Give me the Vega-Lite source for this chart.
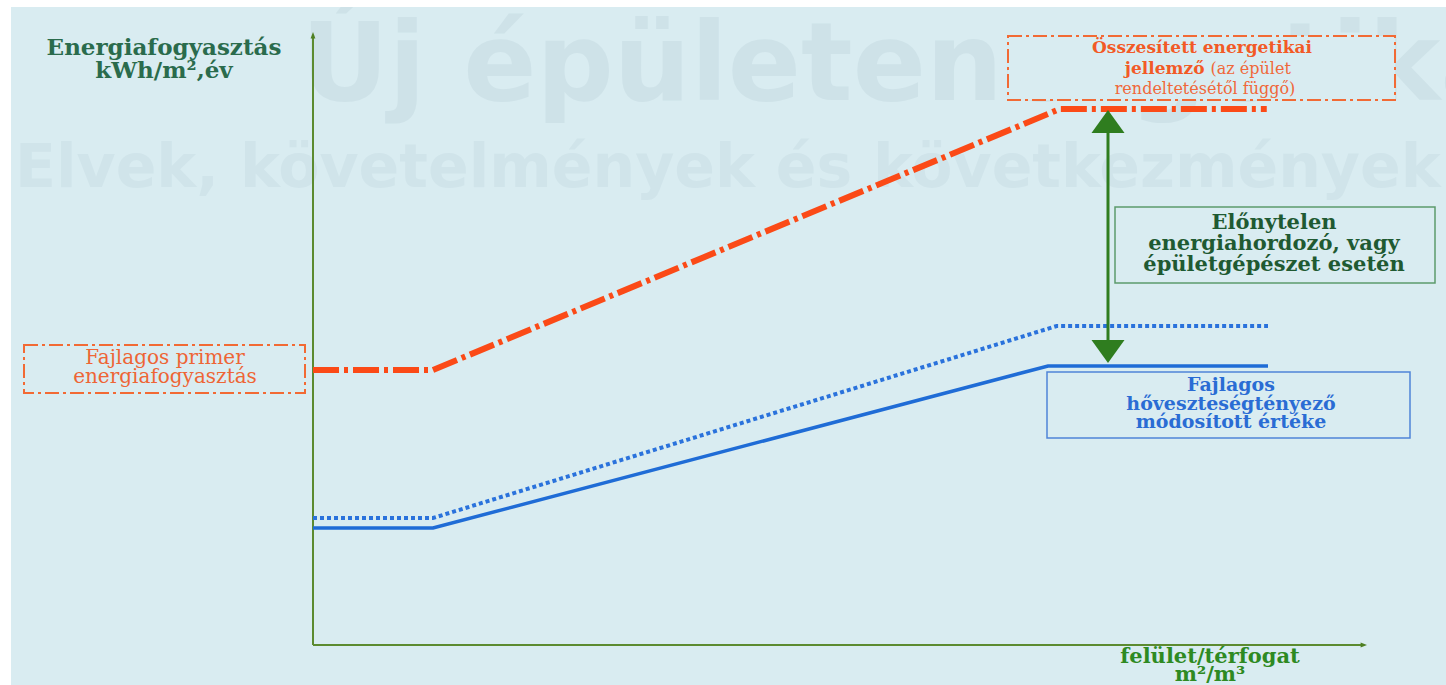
{
  "$schema": "https://vega.github.io/schema/vega-lite/v6.json",
  "width": 1435,
  "height": 678,
  "autosize": {"type": "none"},
  "padding": {"left": 11, "top": 7, "right": 0, "bottom": 0},
  "background": "#ffffff",
  "config": {"view": {"fill": "#d9ecf1", "stroke": null}},
  "data": {
    "values": [
      {"gorbe": "osszesitett", "av": 0, "energia": 110},
      {"gorbe": "osszesitett", "av": 0.192, "energia": 110},
      {"gorbe": "osszesitett", "av": 1.195, "energia": 214.4},
      {"gorbe": "osszesitett", "av": 1.526, "energia": 214.4},
      {"gorbe": "hoveszteseg", "av": 0, "energia": 50.8},
      {"gorbe": "hoveszteseg", "av": 0.192, "energia": 50.8},
      {"gorbe": "hoveszteseg", "av": 1.19, "energia": 127.6},
      {"gorbe": "hoveszteseg", "av": 1.528, "energia": 127.6},
      {"gorbe": "hoveszteseg_mod", "av": 0, "energia": 46.8},
      {"gorbe": "hoveszteseg_mod", "av": 0.192, "energia": 46.8},
      {"gorbe": "hoveszteseg_mod", "av": 1.176, "energia": 111.6},
      {"gorbe": "hoveszteseg_mod", "av": 1.528, "energia": 111.6}
    ]
  },
  "layer": [
    {
      "data": {"values": [{}]},
      "mark": {"type": "text", "text": "Új épületenergetika", "font": "DejaVu Sans", "fontWeight": "bold", "fontSize": 108, "color": "#cee2e8", "align": "left", "baseline": "alphabetic", "clip": true},
      "encoding": {
        "x": {"datum": -0.0192, "type": "quantitative", "scale": {"domain": [-0.4832, 1.8128], "nice": false, "zero": false}, "axis": null},
        "y": {"datum": 218, "type": "quantitative", "scale": {"domain": [-16, 255.2], "nice": false, "zero": false}, "axis": null}
      }
    },
    {
      "data": {"values": [{}]},
      "mark": {"type": "text", "text": "Elvek, követelmények és következmények", "font": "DejaVu Sans", "fontWeight": "bold", "fontSize": 60, "color": "#d0e4ea", "align": "left", "baseline": "alphabetic", "clip": true},
      "encoding": {
        "x": {"datum": -0.4768, "type": "quantitative", "scale": {"domain": [-0.4832, 1.8128], "nice": false, "zero": false}, "axis": null},
        "y": {"datum": 183.2, "type": "quantitative", "scale": {"domain": [-16, 255.2], "nice": false, "zero": false}, "axis": null}
      }
    },
    {
      "data": {"values": [{}]},
      "mark": {"type": "rule", "color": "#5c8b30", "strokeWidth": 2},
      "encoding": {
        "x": {"datum": 0, "type": "quantitative", "scale": {"domain": [-0.4832, 1.8128], "nice": false, "zero": false}, "axis": null},
        "y": {"datum": 0, "type": "quantitative", "scale": {"domain": [-16, 255.2], "nice": false, "zero": false}, "axis": null},
        "y2": {"datum": 244}
      }
    },
    {
      "data": {"values": [{}]},
      "mark": {"type": "rule", "color": "#5c8b30", "strokeWidth": 2},
      "encoding": {
        "x": {"datum": 0, "type": "quantitative", "scale": {"domain": [-0.4832, 1.8128], "nice": false, "zero": false}, "axis": null},
        "x2": {"datum": 1.68},
        "y": {"datum": 0, "type": "quantitative", "scale": {"domain": [-16, 255.2], "nice": false, "zero": false}, "axis": null}
      }
    },
    {
      "data": {"values": [{}]},
      "mark": {"type": "point", "shape": "M0,0L0.6,1.6L-0.6,1.6Z", "filled": true, "size": 64, "color": "#4e7f22", "opacity": 1},
      "encoding": {
        "x": {"datum": 0, "type": "quantitative", "scale": {"domain": [-0.4832, 1.8128], "nice": false, "zero": false}, "axis": null},
        "y": {"datum": 245.2, "type": "quantitative", "scale": {"domain": [-16, 255.2], "nice": false, "zero": false}, "axis": null}
      }
    },
    {
      "data": {"values": [{}]},
      "mark": {"type": "point", "shape": "M0,0L-1.6,-0.6L-1.6,0.6Z", "filled": true, "size": 64, "color": "#4e7f22", "opacity": 1},
      "encoding": {
        "x": {"datum": 1.6864, "type": "quantitative", "scale": {"domain": [-0.4832, 1.8128], "nice": false, "zero": false}, "axis": null},
        "y": {"datum": 0, "type": "quantitative", "scale": {"domain": [-16, 255.2], "nice": false, "zero": false}, "axis": null}
      }
    },
    {
      "transform": [{"filter": "datum.gorbe === 'osszesitett'"}],
      "mark": {"type": "line", "color": "#fb4a17", "strokeWidth": 6, "strokeDash": [26, 5, 4, 5], "strokeJoin": "miter"},
      "encoding": {
        "x": {"field": "av", "type": "quantitative", "scale": {"domain": [-0.4832, 1.8128], "nice": false, "zero": false}, "axis": null},
        "y": {"field": "energia", "type": "quantitative", "scale": {"domain": [-16, 255.2], "nice": false, "zero": false}, "axis": null}
      }
    },
    {
      "transform": [{"filter": "datum.gorbe === 'hoveszteseg'"}],
      "mark": {"type": "line", "color": "#2a72dc", "strokeWidth": 4, "strokeDash": [4, 3], "strokeJoin": "miter"},
      "encoding": {
        "x": {"field": "av", "type": "quantitative", "scale": {"domain": [-0.4832, 1.8128], "nice": false, "zero": false}, "axis": null},
        "y": {"field": "energia", "type": "quantitative", "scale": {"domain": [-16, 255.2], "nice": false, "zero": false}, "axis": null}
      }
    },
    {
      "transform": [{"filter": "datum.gorbe === 'hoveszteseg_mod'"}],
      "mark": {"type": "line", "color": "#1f6cd6", "strokeWidth": 3.5, "strokeJoin": "miter"},
      "encoding": {
        "x": {"field": "av", "type": "quantitative", "scale": {"domain": [-0.4832, 1.8128], "nice": false, "zero": false}, "axis": null},
        "y": {"field": "energia", "type": "quantitative", "scale": {"domain": [-16, 255.2], "nice": false, "zero": false}, "axis": null}
      }
    },
    {
      "data": {"values": [{}]},
      "mark": {"type": "rule", "color": "#2f7d1f", "strokeWidth": 3},
      "encoding": {
        "x": {"datum": 1.272, "type": "quantitative", "scale": {"domain": [-0.4832, 1.8128], "nice": false, "zero": false}, "axis": null},
        "y": {"datum": 205, "type": "quantitative", "scale": {"domain": [-16, 255.2], "nice": false, "zero": false}, "axis": null},
        "y2": {"datum": 121}
      }
    },
    {
      "data": {"values": [{}]},
      "mark": {"type": "point", "shape": "M0,0L1,1.4L-1,1.4Z", "filled": true, "size": 1089, "color": "#2f7d1f", "opacity": 1},
      "encoding": {
        "x": {"datum": 1.272, "type": "quantitative", "scale": {"domain": [-0.4832, 1.8128], "nice": false, "zero": false}, "axis": null},
        "y": {"datum": 214, "type": "quantitative", "scale": {"domain": [-16, 255.2], "nice": false, "zero": false}, "axis": null}
      }
    },
    {
      "data": {"values": [{}]},
      "mark": {"type": "point", "shape": "M0,0L1,-1.4L-1,-1.4Z", "filled": true, "size": 1089, "color": "#2f7d1f", "opacity": 1},
      "encoding": {
        "x": {"datum": 1.272, "type": "quantitative", "scale": {"domain": [-0.4832, 1.8128], "nice": false, "zero": false}, "axis": null},
        "y": {"datum": 112.8, "type": "quantitative", "scale": {"domain": [-16, 255.2], "nice": false, "zero": false}, "axis": null}
      }
    },
    {
      "data": {"values": [{}]},
      "mark": {"type": "rect", "fill": "#d9ecf1", "fillOpacity": 1, "stroke": "#f26a35", "strokeWidth": 2, "strokeDash": [14, 4, 3, 4]},
      "encoding": {
        "x": {"datum": 1.112, "type": "quantitative", "scale": {"domain": [-0.4832, 1.8128], "nice": false, "zero": false}, "axis": null},
        "x2": {"datum": 1.7312},
        "y": {"datum": 243.6, "type": "quantitative", "scale": {"domain": [-16, 255.2], "nice": false, "zero": false}, "axis": null},
        "y2": {"datum": 218}
      }
    },
    {
      "data": {"values": [{}]},
      "mark": {"type": "rect", "fill": "#d9ecf1", "fillOpacity": 1, "stroke": "#f26a35", "strokeWidth": 2, "strokeDash": [14, 4, 3, 4]},
      "encoding": {
        "x": {"datum": -0.4624, "type": "quantitative", "scale": {"domain": [-0.4832, 1.8128], "nice": false, "zero": false}, "axis": null},
        "x2": {"datum": -0.0128},
        "y": {"datum": 120, "type": "quantitative", "scale": {"domain": [-16, 255.2], "nice": false, "zero": false}, "axis": null},
        "y2": {"datum": 100.8}
      }
    },
    {
      "data": {"values": [{}]},
      "mark": {"type": "rect", "fill": "#d9ecf1", "fillOpacity": 1, "stroke": "#5c9a6c", "strokeWidth": 1.5},
      "encoding": {
        "x": {"datum": 1.2832, "type": "quantitative", "scale": {"domain": [-0.4832, 1.8128], "nice": false, "zero": false}, "axis": null},
        "x2": {"datum": 1.7952},
        "y": {"datum": 175.2, "type": "quantitative", "scale": {"domain": [-16, 255.2], "nice": false, "zero": false}, "axis": null},
        "y2": {"datum": 144.8}
      }
    },
    {
      "data": {"values": [{}]},
      "mark": {"type": "rect", "fill": "#d9ecf1", "fillOpacity": 1, "stroke": "#4f84d8", "strokeWidth": 1.5},
      "encoding": {
        "x": {"datum": 1.1744, "type": "quantitative", "scale": {"domain": [-0.4832, 1.8128], "nice": false, "zero": false}, "axis": null},
        "x2": {"datum": 1.7552},
        "y": {"datum": 109.2, "type": "quantitative", "scale": {"domain": [-16, 255.2], "nice": false, "zero": false}, "axis": null},
        "y2": {"datum": 82.8}
      }
    },
    {
      "data": {"values": [{}]},
      "mark": {"type": "text", "text": ["Energiafogyasztás", "kWh/m²,év"], "font": "DejaVu Serif", "fontWeight": "bold", "fontSize": 23, "lineHeight": 23, "color": "#2a6b4c", "align": "center", "baseline": "alphabetic"},
      "encoding": {
        "x": {"datum": -0.2384, "type": "quantitative", "scale": {"domain": [-0.4832, 1.8128], "nice": false, "zero": false}, "axis": null},
        "y": {"datum": 236, "type": "quantitative", "scale": {"domain": [-16, 255.2], "nice": false, "zero": false}, "axis": null}
      }
    },
    {
      "data": {"values": [{}]},
      "mark": {"type": "text", "text": "Összesített energetikai", "font": "DejaVu Serif", "fontWeight": "bold", "fontSize": 17, "color": "#f25a26", "align": "center", "baseline": "alphabetic"},
      "encoding": {
        "x": {"datum": 1.4224, "type": "quantitative", "scale": {"domain": [-0.4832, 1.8128], "nice": false, "zero": false}, "axis": null},
        "y": {"datum": 236.8, "type": "quantitative", "scale": {"domain": [-16, 255.2], "nice": false, "zero": false}, "axis": null}
      }
    },
    {
      "data": {"values": [{}]},
      "mark": {"type": "text", "text": "jellemző", "font": "DejaVu Serif", "fontWeight": "bold", "fontSize": 17, "color": "#f25a26", "align": "right", "baseline": "alphabetic"},
      "encoding": {
        "x": {"datum": 1.4264, "type": "quantitative", "scale": {"domain": [-0.4832, 1.8128], "nice": false, "zero": false}, "axis": null},
        "y": {"datum": 228.6, "type": "quantitative", "scale": {"domain": [-16, 255.2], "nice": false, "zero": false}, "axis": null}
      }
    },
    {
      "data": {"values": [{}]},
      "mark": {"type": "text", "text": "(az épület", "font": "DejaVu Serif", "fontSize": 16, "color": "#f0683a", "align": "left", "baseline": "alphabetic"},
      "encoding": {
        "x": {"datum": 1.436, "type": "quantitative", "scale": {"domain": [-0.4832, 1.8128], "nice": false, "zero": false}, "axis": null},
        "y": {"datum": 228.6, "type": "quantitative", "scale": {"domain": [-16, 255.2], "nice": false, "zero": false}, "axis": null}
      }
    },
    {
      "data": {"values": [{}]},
      "mark": {"type": "text", "text": "rendeltetésétől függő)", "font": "DejaVu Serif", "fontSize": 16, "color": "#f0683a", "align": "center", "baseline": "alphabetic"},
      "encoding": {
        "x": {"datum": 1.4272, "type": "quantitative", "scale": {"domain": [-0.4832, 1.8128], "nice": false, "zero": false}, "axis": null},
        "y": {"datum": 220.6, "type": "quantitative", "scale": {"domain": [-16, 255.2], "nice": false, "zero": false}, "axis": null}
      }
    },
    {
      "data": {"values": [{}]},
      "mark": {"type": "text", "text": ["Előnytelen", "energiahordozó, vagy", "épületgépészet esetén"], "font": "DejaVu Serif", "fontWeight": "bold", "fontSize": 21, "lineHeight": 21, "color": "#1f5a32", "align": "center", "baseline": "alphabetic"},
      "encoding": {
        "x": {"datum": 1.5376, "type": "quantitative", "scale": {"domain": [-0.4832, 1.8128], "nice": false, "zero": false}, "axis": null},
        "y": {"datum": 166.4, "type": "quantitative", "scale": {"domain": [-16, 255.2], "nice": false, "zero": false}, "axis": null}
      }
    },
    {
      "data": {"values": [{}]},
      "mark": {"type": "text", "text": ["Fajlagos", "hőveszteségtényező", "módosított értéke"], "font": "DejaVu Serif", "fontWeight": "bold", "fontSize": 19, "lineHeight": 18.5, "color": "#2a6cd4", "align": "center", "baseline": "alphabetic"},
      "encoding": {
        "x": {"datum": 1.4688, "type": "quantitative", "scale": {"domain": [-0.4832, 1.8128], "nice": false, "zero": false}, "axis": null},
        "y": {"datum": 101.6, "type": "quantitative", "scale": {"domain": [-16, 255.2], "nice": false, "zero": false}, "axis": null}
      }
    },
    {
      "data": {"values": [{}]},
      "mark": {"type": "text", "text": ["Fajlagos primer", "energiafogyasztás"], "font": "DejaVu Serif", "fontSize": 20, "lineHeight": 19, "color": "#ee6535", "align": "center", "baseline": "alphabetic"},
      "encoding": {
        "x": {"datum": -0.2368, "type": "quantitative", "scale": {"domain": [-0.4832, 1.8128], "nice": false, "zero": false}, "axis": null},
        "y": {"datum": 112.4, "type": "quantitative", "scale": {"domain": [-16, 255.2], "nice": false, "zero": false}, "axis": null}
      }
    },
    {
      "data": {"values": [{}]},
      "mark": {"type": "text", "text": ["felület/térfogat", "m²/m³"], "font": "DejaVu Serif", "fontWeight": "bold", "fontSize": 21, "lineHeight": 18, "color": "#2e8a22", "align": "center", "baseline": "alphabetic"},
      "encoding": {
        "x": {"datum": 1.4352, "type": "quantitative", "scale": {"domain": [-0.4832, 1.8128], "nice": false, "zero": false}, "axis": null},
        "y": {"datum": -7.2, "type": "quantitative", "scale": {"domain": [-16, 255.2], "nice": false, "zero": false}, "axis": null}
      }
    }
  ]
}
